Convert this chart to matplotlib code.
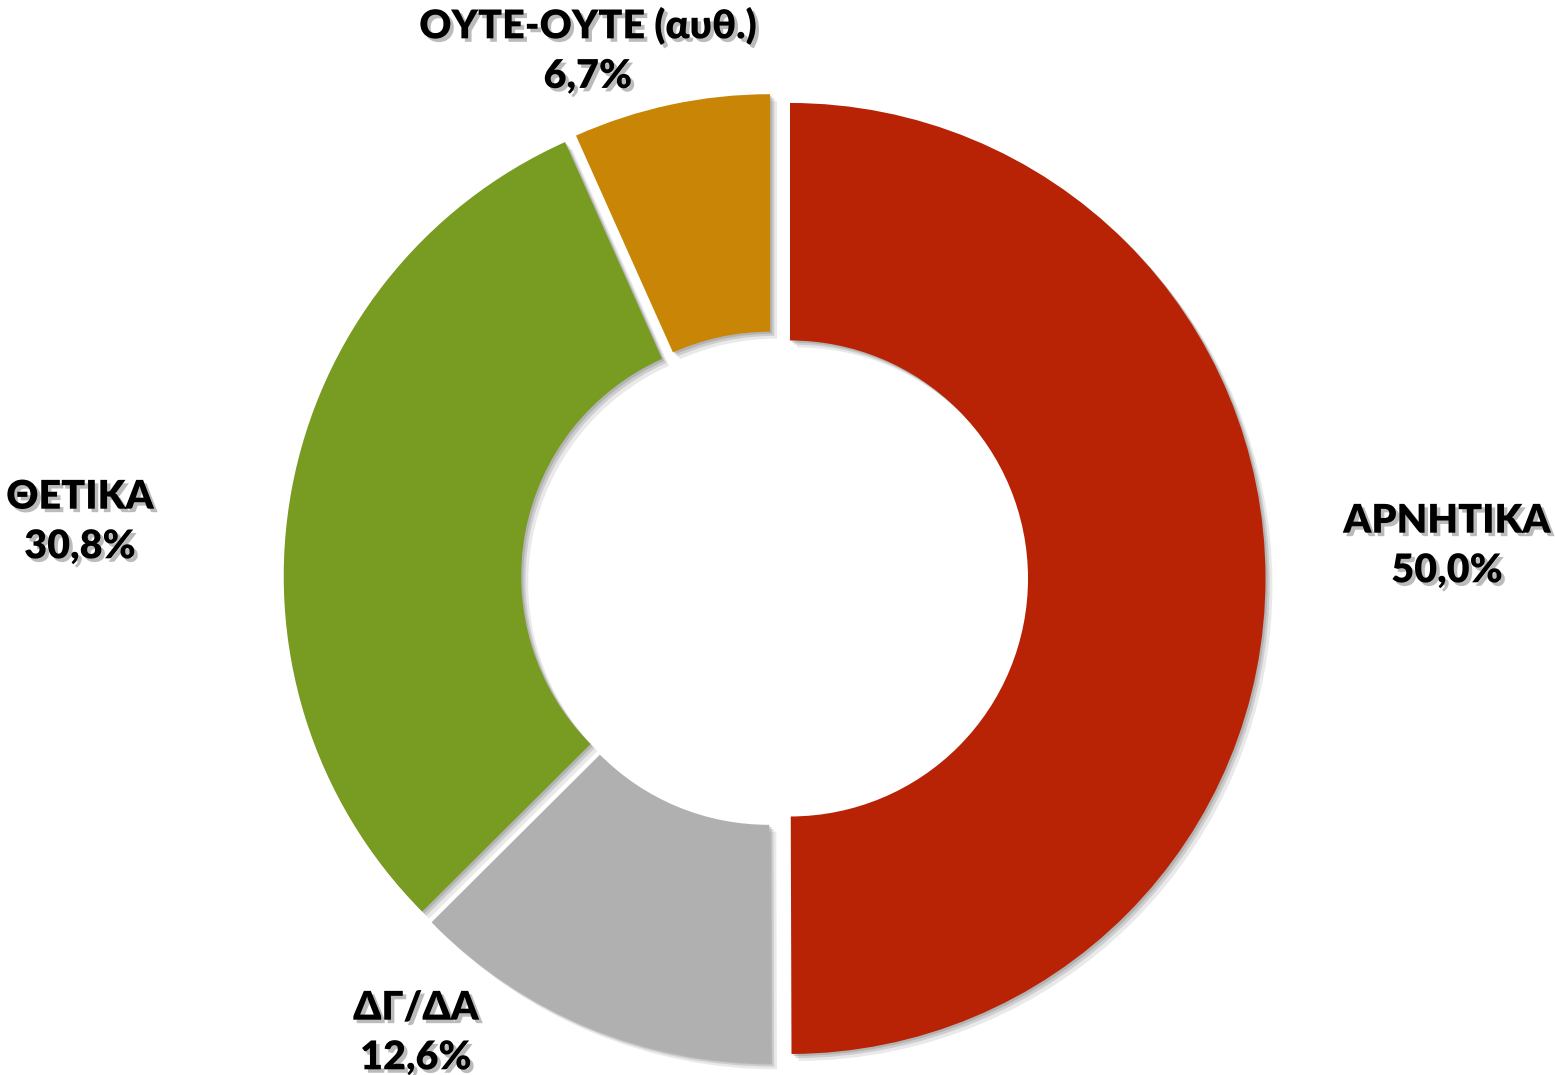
import matplotlib
matplotlib.use("Agg")
import matplotlib.pyplot as plt
import matplotlib.patheffects as pe

categories = ["ΑΡΝΗΤΙΚΑ", "ΔΓ/ΔΑ", "ΘΕΤΙΚΑ", "ΟΥΤΕ-ΟΥΤΕ (αυθ.)"]
values = [50.0, 12.6, 30.8, 6.7]
value_labels = ["50,0%", "12,6%", "30,8%", "6,7%"]

colors = ["#B82306", "#B0B0B0", "#779C21", "#C88506"]
explode = [18, 9, 13, 9]
label_pos = [(1447, 546), (416, 1033), (80, 522), (588, 51)]

W, H = 1555, 1075
fig = plt.figure(figsize=(W / 100, H / 100), dpi=100)
ax = fig.add_axes([0, 0, 1, 1])

R = 475.5
cx, cy = 772, H - 578.5

shadow = [pe.SimplePatchShadow(offset=(5, -5), shadow_rgbFace="#8a8a8a", alpha=0.18),
          pe.SimplePatchShadow(offset=(3, -3), shadow_rgbFace="#7a7a7a", alpha=0.25),
          pe.SimplePatchShadow(offset=(1.5, -1.5), shadow_rgbFace="#7a7a7a", alpha=0.3),
          pe.Normal()]

wedges, _ = ax.pie(values, colors=colors, explode=explode, startangle=90,
                   counterclock=False, radius=R, center=(cx, cy),
                   wedgeprops=dict(width=R - 238, linewidth=0),
                   frame=True)
for w in wedges:
    w.set_path_effects(shadow)

ax.set_xlim(0, W)
ax.set_ylim(0, H)
ax.set_aspect("equal")
ax.axis("off")

txt_shadow = [pe.SimplePatchShadow(offset=(2.5, -2.5), shadow_rgbFace="#555555", alpha=0.4),
              pe.Normal()]
for (x, y), name, val in zip(label_pos, categories, value_labels):
    ax.text(x, H - y, f"{name}\n{val}", ha="center", va="center",
            fontsize=28.5, fontweight="heavy", family=["Lato", "DejaVu Sans"],
            linespacing=1.42, color="black", path_effects=txt_shadow)

fig.savefig("out.png", dpi=100, facecolor="white")
